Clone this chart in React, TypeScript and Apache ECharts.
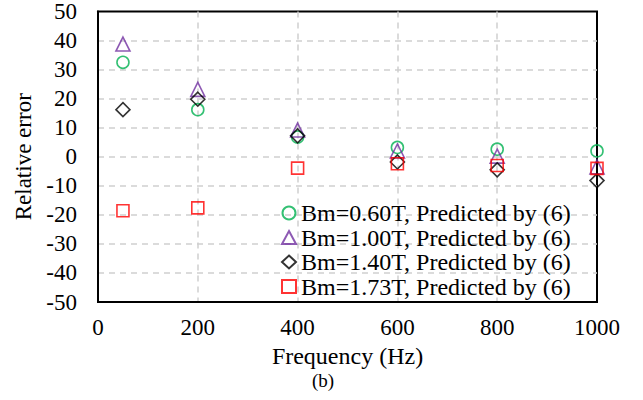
import React, { useEffect, useRef } from "react";
import * as echarts from "echarts";

const frequencies = [50, 200, 400, 600, 800, 1000];
const bm060 = [32.5, 16.2, 6.8, 3.2, 2.6, 2.0];
const bm100 = [38.8, 23.2, 9.2, 2.0, 0.2, -3.5];
const bm140 = [16.2, 19.8, 7.2, -1.8, -4.5, -8.2];
const bm173 = [-18.6, -17.6, -3.9, -2.4, -3.0, -4.0];
const legendNames = [
  "Bm=0.60T, Predicted by (6)",
  "Bm=1.00T, Predicted by (6)",
  "Bm=1.40T, Predicted by (6)",
  "Bm=1.73T, Predicted by (6)",
];

const FONT = "serif";

export default function App() {
  const ref = useRef<HTMLDivElement>(null);
  useEffect(() => {
    document.body.style.margin = "0";
    if (!ref.current) return;
    const chart = echarts.init(ref.current, null, { renderer: "svg" });
    const mk = (name: string, vals: number[], symbol: string, color: string, size: number) => ({
      name,
      type: "scatter",
      symbol,
      symbolSize: size,
      data: frequencies.map((f, i) => [f, vals[i]]),
      itemStyle: { color: "rgba(0,0,0,0)", borderColor: color, borderWidth: 1.6 },
    });
    const split = {
      show: true,
      showMinLine: false,
      showMaxLine: false,
      lineStyle: { color: "#d0d0d0", type: [6, 5], width: 1.5 },
    };
    chart.setOption({
      animation: false,
      textStyle: { fontFamily: FONT },
      grid: {
        left: 98,
        right: 46,
        top: 10,
        bottom: 98,
        show: true,
        borderColor: "#000",
        borderWidth: 2,
      },
      legend: {
        orient: "vertical",
        left: 281,
        top: 201,
        padding: 0,
        itemGap: 0.5,
        itemWidth: 14,
        itemHeight: 13,
        textStyle: { fontFamily: FONT, fontSize: 24, lineHeight: 24, color: "#000" },
        data: legendNames,
      },
      xAxis: {
        type: "value",
        min: 0,
        max: 1000,
        interval: 200,
        name: "Frequency (Hz)",
        nameLocation: "middle",
        nameGap: 35,
        nameTextStyle: { fontFamily: FONT, fontSize: 24, color: "#000" },
        axisLine: { show: true, onZero: false, lineStyle: { color: "#000", width: 2 } },
        axisTick: { show: false },
        axisLabel: {
          fontFamily: FONT,
          fontSize: 23,
          color: "#000",
          margin: 14,
          formatter: (v: number) => String(v),
        },
        splitLine: split,
      },
      yAxis: {
        type: "value",
        min: -50,
        max: 50,
        interval: 10,
        name: "Relative error",
        nameLocation: "middle",
        nameGap: 60,
        nameTextStyle: { fontFamily: FONT, fontSize: 23, color: "#000" },
        axisLine: { show: true, onZero: false, lineStyle: { color: "#000", width: 2 } },
        axisTick: { show: false },
        axisLabel: { fontFamily: FONT, fontSize: 23, color: "#000", margin: 21 },
        splitLine: split,
      },
      graphic: [
        {
          type: "text",
          x: 323,
          y: 380,
          style: {
            text: "(b)",
            fontFamily: FONT,
            fontSize: 19,
            fill: "#000",
            align: "center",
            verticalAlign: "middle",
          },
        },
      ],
      series: [
        mk(legendNames[0], bm060, "circle", "#00B050", 12),
        mk(legendNames[1], bm100, "triangle", "#7030A0", 14),
        mk(legendNames[2], bm140, "diamond", "#000000", 14),
        mk(legendNames[3], bm173, "rect", "#FF0000", 12),
      ],
    });
    return () => chart.dispose();
  }, []);
  return <div ref={ref} style={{ width: 643, height: 400 }} />;
}
